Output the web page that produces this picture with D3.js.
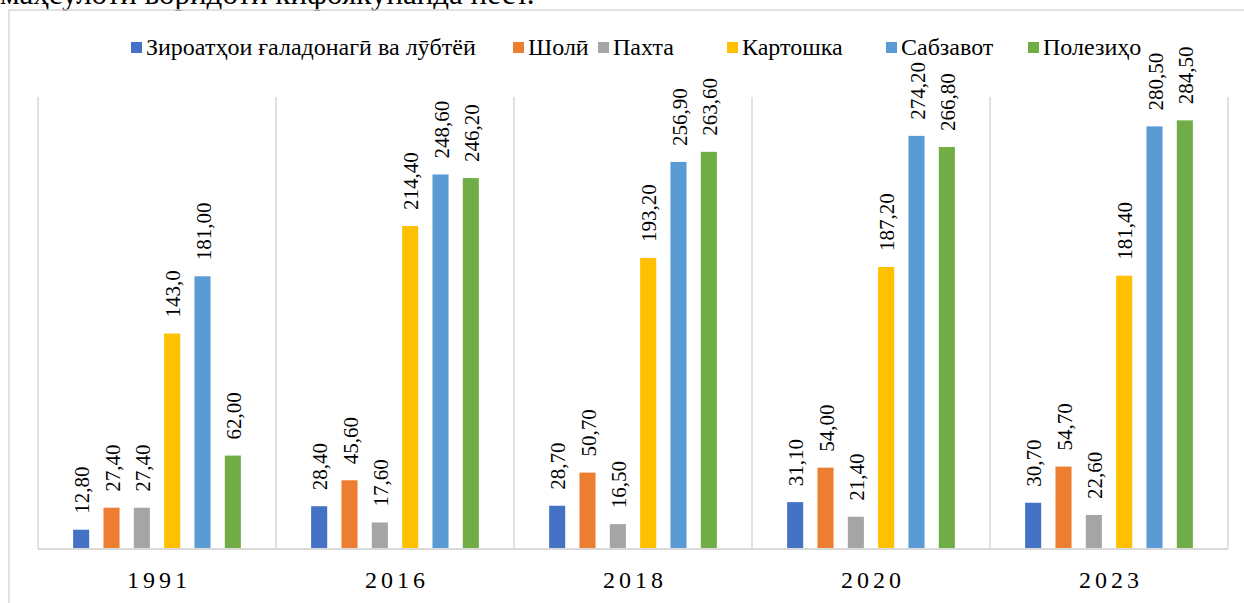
<!DOCTYPE html>
<html>
<head>
<meta charset="UTF-8">
</head>
<body style="margin:0">
<svg width="1244" height="603" style="display:block; font-family: 'Liberation Serif', 'Times New Roman', serif"></svg>
<script src="https://d3js.org/d3.v7.min.js"></script>
<script>
// data
var years = ["1991", "2016", "2018", "2020", "2023"]
var seriesNames = ["Зироатҳои ғаладонагӣ ва лӯбтёӣ", "Шолӣ", "Пахта", "Картошка", "Сабзавот", "Полезиҳо"]
var grain = [12.8, 28.4, 28.7, 31.1, 30.7]
var rice = [27.4, 45.6, 50.7, 54.0, 54.7]
var cotton = [27.4, 17.6, 16.5, 21.4, 22.6]
var potato = [143.0, 214.4, 193.2, 187.2, 181.4]
var vegetables = [181.0, 248.6, 256.9, 274.2, 280.5]
var melons = [62.0, 246.2, 263.6, 266.8, 284.5]
var colors = ["#4472c4", "#ed7d31", "#a5a5a5", "#ffc000", "#5b9bd5", "#70ad47"]

var allSeries = [grain, rice, cotton, potato, vegetables, melons]
var fontName = function () { return "'Times New Roman'" }

var svg = d3.select("svg")

// text of the page above the chart (cut off)
svg.append("text").attr("x", 0).attr("y", 4)
  .style("font-family", fontName)
  .style("font-size", "31px")
  .text("маҳсулоти воридоти кифоякунанда нест.")

// chart border
svg.append("rect").attr("x", 9).attr("y", 10).attr("width", 1260).attr("height", 620)
  .style("fill", "none").style("stroke", "#d9d9d9").style("stroke-width", 1.5)

var plot = { left: 38, right: 1228, top: 97, bottom: 549 }

var x0 = d3.scaleBand().domain(years).range([plot.left, plot.right]).padding(0)
var x1 = d3.scaleBand().domain(d3.range(6)).range([-91, 91]).paddingInner(0.47).paddingOuter(0.235)
var y = d3.scaleLinear().domain([0, 300]).range([plot.bottom, plot.top])

// vertical category separators
var seps = x0.domain().map(function (d) { return x0(d) }).concat([plot.right])
svg.selectAll(".sep").data(seps).enter().append("line")
  .attr("x1", function (d) { return d }).attr("x2", function (d) { return d })
  .attr("y1", plot.top).attr("y2", plot.bottom)
  .style("stroke", "#d9d9d9").style("stroke-width", 1.5)

var groups = svg.selectAll(".grp").data(years).enter().append("g")
  .attr("transform", function (d) { return "translate(" + (x0(d) + x0.bandwidth() / 2) + ",0)" })

groups.each(function (yr, i) {
  var g = d3.select(this)
  var vals = allSeries.map(function (s) { return s[i] })
  g.selectAll("rect").data(vals).enter().append("rect")
    .attr("x", function (d, j) { return x1(j) })
    .attr("width", x1.bandwidth())
    .attr("y", function (d) { return y(d) })
    .attr("height", function (d) { return plot.bottom - y(d) })
    .style("fill", function (d, j) { return colors[j] })

  g.selectAll("text").data(vals).enter().append("text")
    .attr("transform", function (d, j) {
      return "translate(" + (x1(j) + x1.bandwidth() / 2 + 8) + "," + (y(d) - 16) + ") rotate(-90)"
    })
    .style("font-family", fontName)
    .style("font-size", "21px")
    .text(function (d, j) {
      if (i === 0 && j === 3) return "143,0"
      return d3.format(".2f")(d).replace(".", ",")
    })
})

// x axis line
svg.append("line").attr("x1", plot.left).attr("x2", plot.right)
  .attr("y1", plot.bottom).attr("y2", plot.bottom)
  .style("stroke", "#d9d9d9").style("stroke-width", 2)

// category labels
svg.selectAll(".yr").data(years).enter().append("text")
  .attr("x", function (d) { return x0(d) + x0.bandwidth() / 2 + 2 })
  .attr("y", 588)
  .attr("text-anchor", "middle")
  .style("font-family", fontName)
  .style("font-size", "24px").style("letter-spacing", "4px")
  .text(function (d) { return d })

// legend
var legendX = [131, 513, 598, 727, 886, 1028]
var legend = svg.selectAll(".lg").data(seriesNames).enter().append("g")
  .attr("transform", function (d, i) { return "translate(" + legendX[i] + ",42)" })
legend.append("rect").attr("width", 11).attr("height", 11)
  .style("fill", function (d, i) { return colors[i] })
legend.append("text").attr("x", 15).attr("y", 13)
  .style("font-family", fontName)
  .style("font-size", "24px")
  .text(function (d) { return d })
</script>
</body>
</html>
